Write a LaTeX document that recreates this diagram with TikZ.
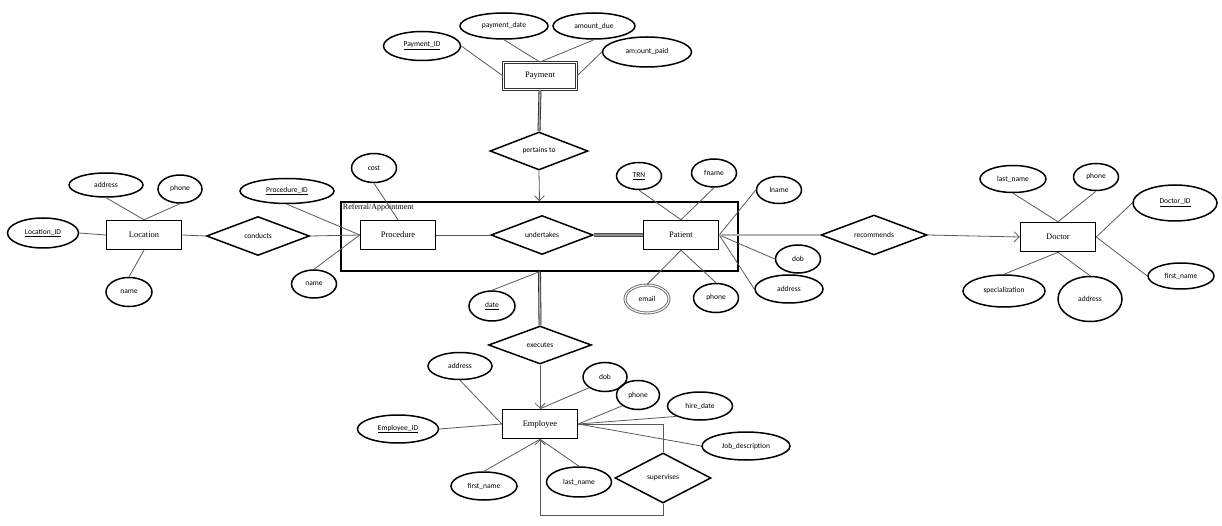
\documentclass[tikz,border=0pt]{standalone}
\usepackage{fontspec}
\setmainfont{Liberation Serif}
\newfontfamily\attrfont{Carlito}
\usetikzlibrary{shapes,arrows.meta}
\begin{document}
\begin{tikzpicture}[x=1pt,y=-1pt,
	attr/.style 2 args={ellipse,draw,line width=1.5pt,inner sep=0pt,minimum width=#1,minimum height=#2,font=\attrfont\fontsize{7.5}{9}\selectfont},
	rel/.style 2 args={diamond,draw,line width=1.5pt,inner sep=0pt,aspect=2.6,minimum width=#1,minimum height=#2,font=\attrfont\fontsize{7.5}{9}\selectfont},
	entity/.style={rectangle,draw,line width=1.5pt,inner sep=0pt,minimum width=75,minimum height=29,font=\fontsize{8.5}{10}\selectfont},
	link/.style={draw=linegrey,line width=0.8pt},
	dbl/.style={draw=black!85,double=gray!60,double distance=1.3pt,line width=0.8pt},
	>={Straight Barb[length=5pt,width=10pt]}]
					\definecolor{linegrey}{HTML}{595959}
					\useasboundingbox (0,0) rectangle (1222,526);
					
					\node[rectangle,draw,line width=1.5pt,minimum width=397,minimum height=69,inner sep=0pt] (refapp) at (539.5,236.5) {};
					\node[anchor=north west,inner sep=2.5pt,font=\fontsize{8}{9.5}\selectfont] (reflabel) at (refapp.north west) {Referral/Appointment};
					
					\node[rectangle,draw=black!80,double=white,double distance=1.4pt,line width=0.9pt,inner sep=0pt,minimum width=73,minimum height=27,font=\fontsize{8.5}{10}\selectfont] (payment) at (540,76) {Payment};
					\node[entity] (loc) at (144,235) {Location};
					\node[entity] (proc) at (398,235) {Procedure};
					\node[entity] (patient) at (681,235) {Patient};
					\node[entity] (doctor) at (1058,237) {Doctor};
					\node[entity] (emp) at (540,424) {Employee};
					
					\node[rel={98}{38}] (pertains) at (539,151) {pertains to};
					\node[rel={103}{39}] (conducts) at (258,236) {conducts};
					\node[rel={102}{39}] (undertakes) at (542,235) {undertakes};
					\node[rel={106}{40}] (recommends) at (874,235) {recommends};
					\node[rel={103}{38}] (executes) at (540,345) {executes};
					\node[rel={96}{50}] (supervises) at (663,478) {supervises};
					
					\node[attr={77}{29}] (payid) at (422,46) {\underline{Payment\_ID}};
					\node[attr={88}{26}] (paydate) at (504,26) {payment\_date};
					\node[attr={82}{26}] (amtdue) at (594,26) {amount\_due};
					\node[attr={89}{30}] (amtpaid) at (647,52) {am;ount\_paid};
					
					\node[attr={74}{24}] (locaddr) at (106,185) {address};
					\node[attr={44}{28}] (locphone) at (180,189) {phone};
					\node[attr={71}{30}] (locid) at (43,233) {\underline{Location\_ID}};
					\node[attr={46}{29}] (locname) at (129,292) {name};
					
					\node[attr={94}{25}] (procid) at (287,191) {\underline{Procedure\_ID}};
					\node[attr={45}{29}] (cost) at (374,168) {cost};
					\node[attr={45}{28}] (procname) at (314,284) {name};
					
					\node[attr={45}{27}] (trn) at (639,176) {\underline{TRN}};
					\node[attr={45}{28}] (fname) at (714,173) {fname};
					\node[attr={45}{27}] (lname) at (779,190) {lname};
					\node[attr={45}{28}] (pdob) at (798,259) {dob};
					\node[attr={68}{28}] (paddr) at (789,289) {address};
					\node[attr={44}{28},double,draw=gray!80!black,double distance=1.1pt,line width=0.9pt] (email) at (647,299) {email};
					\node[attr={45}{29}] (pphone) at (716,298) {phone};
					\node[attr={46}{30}] (date) at (492,306) {\underline{date}};
					
					\node[attr={66}{27}] (dlast) at (1013,179) {last\_name};
					\node[attr={45}{27}] (dphone) at (1096,177) {phone};
					\node[attr={84}{36}] (docid) at (1175,203) {\underline{Doctor\_ID}};
					\node[attr={66}{26}] (dfirst) at (1181,276) {first\_name};
					\node[attr={82}{32}] (spec) at (1004,291) {specialization};
					\node[attr={64}{45}] (daddr) at (1090,299) {address};
					
					\node[attr={64}{27}] (eaddr) at (460,366) {address};
					\node[attr={44}{29}] (edob) at (605,377) {dob};
					\node[attr={43}{29}] (ephone) at (638,395) {phone};
					\node[attr={65}{28}] (hire) at (700,406) {hire\_date};
					\node[attr={81}{28}] (empid) at (398,429) {\underline{Employee\_ID}};
					\node[attr={88}{28}] (job) at (746,446) {Job\_description};
					\node[attr={66}{28}] (efirst) at (484,486) {first\_name};
					\node[attr={65}{30}] (elast) at (579,482) {last\_name};
					
					\draw[link] (payid.east) -- (payment.west);
					\draw[link] (paydate.south) -- (payment.north);
					\draw[link] (amtdue.south) -- (payment.north);
					\draw[link] (amtpaid.west) -- (payment.east);
					\draw[dbl] (payment.south) -- (pertains.north);
					\draw[link,->] (pertains.south) -- (refapp.north);
					
					\draw[link] (locaddr.south) -- (loc.north);
					\draw[link] (locphone.south) -- (loc.north);
					\draw[link] (locid.east) -- (loc.west);
					\draw[link] (locname.north) -- (loc.south);
					\draw[link] (loc.east) -- (conducts.west);
					\draw[link] (conducts.east) -- (proc.west);
					\draw[link] (procid.south) -- (proc.west);
					\draw[link] (procname.north) -- (proc.west);
					\draw[link] (cost.south) -- (proc.north);
					
					\draw[link] (proc.east) -- (undertakes.west);
					\draw[draw=gray!60!black,double=gray!90,double distance=2pt,line width=1pt] (undertakes.east) -- (patient.west);
					\draw[link] (trn.south) -- (patient.north);
					\draw[link] (fname.south) -- (patient.north);
					\draw[link] (lname.west) -- (patient.east);
					\draw[link] (pdob.west) -- (patient.east);
					\draw[link] (paddr.west) -- (patient.east);
					\draw[link] (email.north) -- (patient.south);
					\draw[link] (pphone.north) -- (patient.south);
					\draw[dbl] (patient.east) -- (recommends.west);
					\draw[link,->] (recommends.east) -- (doctor.west);
					
					\draw[link] (dlast.south) -- (doctor.north);
					\draw[link] (dphone.south) -- (doctor.north);
					\draw[link] (docid.west) -- (doctor.east);
					\draw[link] (dfirst.west) -- (doctor.east);
					\draw[link] (spec.north) -- (doctor.south);
					\draw[link] (daddr.north) -- (doctor.south);
					
					\draw[link] (date.north) -- (refapp.south);
					\draw[dbl] (refapp.south) -- (executes.north);
					\draw[link,->] (executes.south) -- (emp.north);
					
					\draw[link] (eaddr.south) -- (emp.west);
					\draw[link] (edob.south west) -- (emp.north);
					\draw[link] (ephone.south west) -- (emp.east);
					\draw[link] (hire.south west) -- (emp.east);
					\draw[link] (job.west) -- (emp.east);
					\draw[link] (empid.east) -- (emp.west);
					\draw[link] (efirst.north) -- (emp.south);
					\draw[link] (elast.north) -- (emp.south);
					\draw[link] (emp.east) -| (supervises.north);
					\draw[link,->] (supervises.south) -- ++(0,12) -| (emp.south);
				\end{tikzpicture}
\end{document}
